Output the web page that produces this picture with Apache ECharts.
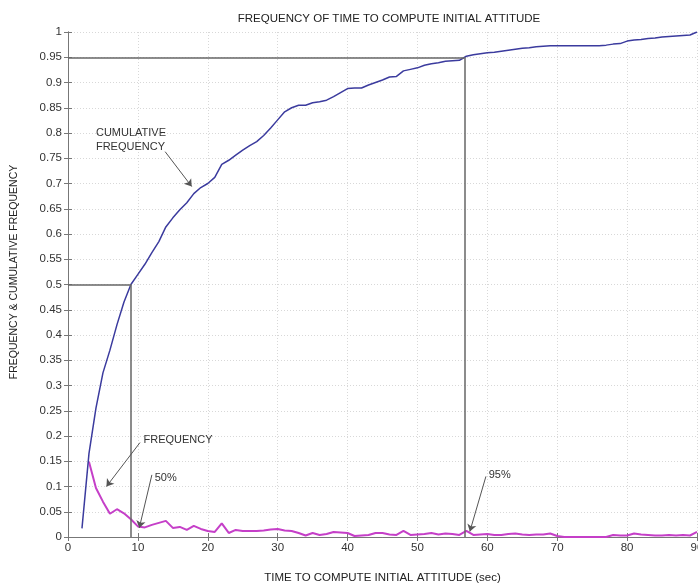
<!DOCTYPE html>
<html>
<head>
<meta charset="utf-8">
<script src="https://cdn.jsdelivr.net/npm/echarts@6/dist/echarts.min.js"></script>
<style>html,body{margin:0;padding:0;background:#fff;}#c{width:698px;height:585px;}</style>
</head>
<body>
<div id="c"></div>
<script>
const cumX = [2,3,4,5,6,7,8,9,10,11,12,13,14,15,16,17,18,19,20,21,22,23,24,25,26,27,28,29,30,31,32,33,34,35,36,37,38,39,40,41,42,43,44,45,46,47,48,49,50,51,52,53,54,55,56,57,58,59,60,61,62,63,64,65,66,67,68,69,70,71,72,73,74,75,76,77,78,79,80,81,82,83,84,85,86,87,88,89,90];
const cumY = [0.017,0.165,0.255,0.325,0.37,0.42,0.465,0.50,0.52,0.54,0.563,0.585,0.614,0.632,0.648,0.662,0.68,0.692,0.70,0.712,0.738,0.746,0.756,0.766,0.775,0.783,0.795,0.81,0.826,0.842,0.85,0.855,0.855,0.86,0.862,0.865,0.872,0.88,0.888,0.889,0.889,0.895,0.90,0.905,0.911,0.912,0.923,0.926,0.929,0.934,0.937,0.939,0.942,0.943,0.944,0.952,0.955,0.957,0.959,0.96,0.962,0.964,0.966,0.968,0.969,0.971,0.972,0.973,0.973,0.973,0.973,0.973,0.973,0.973,0.973,0.974,0.976,0.977,0.982,0.984,0.985,0.987,0.988,0.99,0.991,0.992,0.993,0.994,1.0];
const freqX = [3,4,5,6,7,8,9,10,11,12,13,14,15,16,17,18,19,20,21,22,23,24,25,26,27,28,29,30,31,32,33,34,35,36,37,38,39,40,41,42,43,44,45,46,47,48,49,50,51,52,53,54,55,56,57,58,59,60,61,62,63,64,65,66,67,68,69,70,71,72,73,74,75,76,77,78,79,80,81,82,83,84,85,86,87,88,89,90];
const freqY = [0.149,0.097,0.07,0.046,0.055,0.047,0.035,0.021,0.019,0.024,0.028,0.032,0.018,0.020,0.014,0.022,0.016,0.012,0.010,0.027,0.008,0.014,0.012,0.012,0.012,0.013,0.015,0.016,0.013,0.012,0.008,0.003,0.008,0.004,0.006,0.010,0.009,0.008,0.002,0.003,0.004,0.008,0.008,0.005,0.004,0.012,0.004,0.005,0.006,0.008,0.005,0.007,0.006,0.004,0.012,0.004,0.005,0.006,0.004,0.004,0.006,0.007,0.005,0.004,0.005,0.005,0.007,0.002,0,0,0,0,0,0,0,0.004,0.003,0.003,0.007,0.005,0.004,0.003,0.003,0.004,0.003,0.004,0.003,0.01];
const xTicks = [0,10,20,30,40,50,60,70,80,90];
const yTicks = [0,0.05,0.1,0.15,0.2,0.25,0.3,0.35,0.4,0.45,0.5,0.55,0.6,0.65,0.7,0.75,0.8,0.85,0.9,0.95,1];
const p50 = [9.0, 0.5];
const p95 = [56.7, 0.95];

const font = 'Liberation Sans, Arial, sans-serif';
const chart = echarts.init(document.getElementById('c'));
const zip = (a,b) => a.map((v,i)=>[v,b[i]]);
const annLines = [
  [[13.9,0.763],[17.7,0.694]],
  [[10.3,0.187],[5.5,0.10]],
  [[12.0,0.123],[10.2,0.018]],
  [[59.8,0.12],[57.5,0.011]]
];
const annTexts = [
  {x:4.0, y:0.80, t:'CUMULATIVE'},
  {x:4.0, y:0.772, t:'FREQUENCY'},
  {x:10.8, y:0.192, t:'FREQUENCY'},
  {x:12.4, y:0.117, t:'50%'},
  {x:60.2, y:0.123, t:'95%'}
];
const axCommon = {
  min: 0,
  axisLine: {show: true, lineStyle: {color: '#777', width: 1}},
  axisTick: {show: true, inside: true, length: 4, lineStyle: {color: '#777'}},
};
chart.setOption({
  animation: false,
  backgroundColor: '#fff',
  title: {text: 'FREQUENCY OF TIME TO COMPUTE INITIAL ATTITUDE', left: 384, top: 8, textAlign: 'center',
    textStyle: {fontFamily: font, fontSize: 11.5, fontWeight: 'normal', color: '#222'}},
  grid: {left: 68, right: 1, top: 32, bottom: 48, containLabel: false, outerBoundsMode: 'none'},
  xAxis: [
    Object.assign({}, axCommon, {type: 'value', max: 90, interval: 10,
      name: 'TIME TO COMPUTE INITIAL ATTITUDE (sec)', nameLocation: 'middle', nameGap: 35,
      nameTextStyle: {fontFamily: font, fontSize: 11.5, color: '#222'},
      axisLabel: {fontFamily: font, fontSize: 11.5, color: '#333', margin: 5},
      splitLine: {show: true, lineStyle: {color: '#d8d8d8', type: [1,2]}}}),
    Object.assign({}, axCommon, {type: 'value', max: 90, interval: 10, position: 'top',
      axisLabel: {show: false}, splitLine: {show: false}})
  ],
  yAxis: [
    Object.assign({}, axCommon, {type: 'value', max: 1, interval: 0.05,
      axisLabel: {fontFamily: font, fontSize: 11.5, color: '#333', margin: 6,
        formatter: v => (Math.round(v*100)/100).toString()},
      splitLine: {show: true, lineStyle: {color: '#d8d8d8', type: [1,2]}}}),
    Object.assign({}, axCommon, {type: 'value', max: 1, interval: 0.05, position: 'right',
      axisLabel: {show: false}, splitLine: {show: false}})
  ],
  series: [
    {type: 'line', name: 'ref', data: [], silent: true,
      markLine: {silent: true, symbol: 'none', animation: false,
        lineStyle: {color: '#666', width: 1.5, type: 'solid'}, label: {show: false},
        data: [
          [{coord: [0, p50[1]]}, {coord: [p50[0], p50[1]]}],
          [{coord: [p50[0], 0]}, {coord: [p50[0], p50[1]]}],
          [{coord: [0, p95[1]]}, {coord: [p95[0], p95[1]]}],
          [{coord: [p95[0], 0]}, {coord: [p95[0], p95[1]]}]
        ]}},
    {type: 'line', name: 'FREQUENCY', data: zip(freqX, freqY), showSymbol: false,
      lineStyle: {color: '#c53fc8', width: 2}, z: 3},
    {type: 'line', name: 'CUMULATIVE FREQUENCY', data: zip(cumX, cumY), showSymbol: false,
      lineStyle: {color: '#3b3b9e', width: 1.5}, z: 4},
    {type: 'line', name: 'arrows', data: [], silent: true,
      markLine: {silent: true, animation: false, symbol: ['none', 'arrow'], symbolSize: 7,
        lineStyle: {color: '#555', width: 1, type: 'solid'}, itemStyle: {color: '#111'}, label: {show: false},
        data: annLines.map(l => [{coord: l[0]}, {coord: l[1]}])}}
  ]
});
const g = annTexts.map(a => {
  const p = chart.convertToPixel({gridIndex: 0}, [a.x, a.y]);
  return {type: 'text', x: p[0], y: p[1], style: {text: a.t, fontFamily: font, fontSize: 11, fill: '#333',
    verticalAlign: 'middle', align: 'left'}};
});
g.push({type: 'text', x: 14, y: 272, rotation: Math.PI / 2,
  style: {text: 'FREQUENCY & CUMULATIVE FREQUENCY', fontFamily: font, fontSize: 10.5, fill: '#222',
    align: 'center', verticalAlign: 'middle'}});
chart.setOption({graphic: g});
</script>
</body>
</html>
